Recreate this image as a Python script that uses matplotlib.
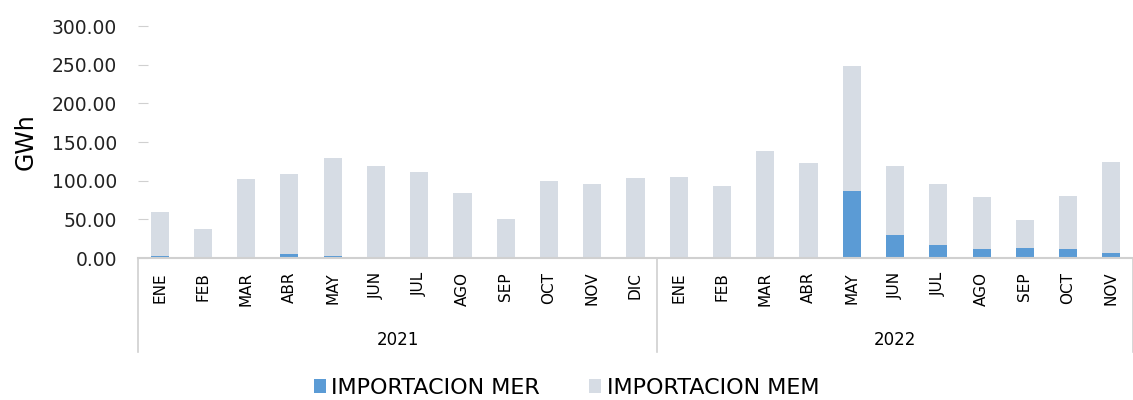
import numpy
from matplotlib import pyplot
from matplotlib import transforms

# month labels and years
months = ['ENE', 'FEB', 'MAR', 'ABR', 'MAY', 'JUN', 'JUL', 'AGO', 'SEP', 'OCT', 'NOV', 'DIC',
          'ENE', 'FEB', 'MAR', 'ABR', 'MAY', 'JUN', 'JUL', 'AGO', 'SEP', 'OCT', 'NOV']
years = ['2021', '2022']
year_counts = [12, 11]

# importacion MER (GWh)
mer = [3.0, 1.0, 0.3, 5.0, 2.0, 0.2, 0.0, 1.0, 0.3, 0.0, 0.0, 0.0,
       0.0, 0.0, 0.0, 1.0, 86.5, 30.0, 16.5, 11.5, 13.5, 11.0, 6.0]
# importacion MEM (GWh)
mem = [57.0, 36.5, 101.5, 103.5, 127.0, 119.0, 111.0, 83.0, 49.5, 100.0, 96.0, 103.5,
       105.0, 93.0, 138.0, 121.5, 161.5, 89.0, 79.0, 67.5, 35.5, 69.0, 118.0]

# colours
cols = {'mer': '#5B9BD5', 'mem': '#D6DCE4'}

fig = pyplot.figure(figsize=(11.33, 4.0), dpi=100)
ax = fig.add_axes([0.1218, 0.355, 0.8782, 0.58])

x = numpy.arange(len(months))
ax.bar(x, mer, width=0.42, color=cols['mer'], label='IMPORTACION MER')
ax.bar(x, mem, width=0.42, bottom=mer, color=cols['mem'], label='IMPORTACION MEM')

ax.set_xlim(-0.5, len(months) - 0.5)
ax.set_ylim(0, 300)
ax.set_yticks(numpy.arange(0, 301, 50))
ax.set_yticklabels(['%.2f' % v for v in numpy.arange(0, 301, 50)], fontsize=13.5, color='#222222')
ax.tick_params(axis='y', direction='in', length=7, color='#D0D0D0', pad=15)
ax.set_ylabel('GWh', fontsize=17, labelpad=10)

ax.set_xticks(x)
ax.set_xticklabels(months, rotation=90, fontsize=11)
ax.tick_params(axis='x', length=0, pad=10)

for side in ['top', 'right', 'left']:
    ax.spines[side].set_visible(False)
ax.spines['bottom'].set_color('#D0D0D0')
ax.spines['bottom'].set_linewidth(1.5)

# category group separators and year labels
trans = transforms.blended_transform_factory(ax.transData, ax.transAxes)
edges = [-0.5]
for n in year_counts:
    edges.append(edges[-1] + n)
for e in edges:
    ax.plot([e, e], [0, -0.405], color='#D0D0D0', lw=1.2, transform=trans, clip_on=False)
for i, yr in enumerate(years):
    ax.text((edges[i] + edges[i + 1]) / 2, -0.353, yr, transform=trans,
            ha='center', va='center', fontsize=12, family='Liberation Sans Narrow')

# legend at the bottom
fig.legend(loc='center', ncol=2, bbox_to_anchor=(0.5, 0.03), frameon=False,
           fontsize=16, handlelength=0.55, handleheight=0.55, handletextpad=0.25, columnspacing=2.2)

fig.savefig('out.png')
